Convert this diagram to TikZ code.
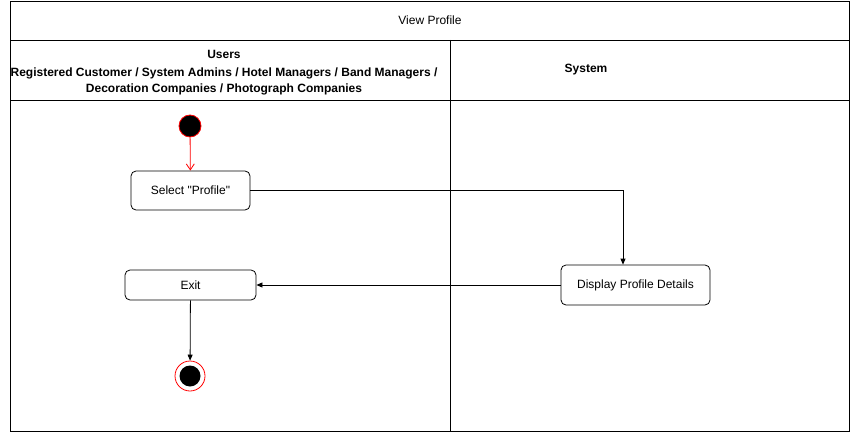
\documentclass[tikz,border=0pt]{standalone}
\usepackage{fontspec}
\setmainfont{Liberation Sans}
\newfontfamily\plainfont{Liberation Sans}
\usetikzlibrary{arrows.meta}
\begin{document}
\begin{tikzpicture}[x=1pt,y=-1pt,
  lane/.style={draw=black, line width=0.8pt},
  act/.style={draw=black, line width=0.8pt, rounded corners=5pt, fill=white, font=\plainfont\fontsize{12}{14}\selectfont, inner sep=0pt},
  flow/.style={draw=black, line width=0.8pt, -{Triangle[length=6pt,width=5pt]}},
  hdr/.style={font=\fontsize{12}{15.5}\selectfont\bfseries, align=center}]
\useasboundingbox (0,0) rectangle (853,433);
\fill[white] (0,0) rectangle (853,433);
% frame
\draw[lane] (10,1) rectangle (849,431);
\draw[lane] (10,40) -- (849,40);
\draw[lane] (10,100) -- (849,100);
\draw[lane] (450,40) -- (450,431);
\node[font=\fontsize{12}{14}\selectfont] (title) at (430,20) {View Profile};
\node[hdr] (users) at (224,72.5) {Users\\[2.5pt]Registered Customer / System Admins / Hotel Managers / Band Managers /\\Decoration Companies / Photograph Companies};
\node[hdr] (system) at (586,70) {System};
% nodes
\node[circle, draw=red, fill=black, line width=0.8pt, minimum size=22pt, inner sep=0pt] (start) at (190,126) {};
\node[act, minimum width=119pt, minimum height=39pt] (sel) at (190.5,190.5) {Select "Profile"};
\node[act, minimum width=149pt, minimum height=40pt] (disp) at (635.5,285) {Display Profile Details};
\node[act, minimum width=131pt, minimum height=30pt] (exit) at (190.5,285) {Exit};
\node[circle, draw=red, fill=white, line width=0.8pt, minimum size=30pt, inner sep=0pt] (end) at (190,376) {};
\node[circle, fill=black, minimum size=21pt, inner sep=0pt] (endin) at (190,376) {};
\coordinate (bend) at (623,190.5);
% edges
\draw[draw=red, line width=0.8pt, -{Straight Barb[length=6pt,width=8pt]}] (start) -- (sel);
\draw[flow] (sel.east) -- (bend) -- (bend |- disp.north);
\draw[flow] (disp.west) -- (exit.east);
\draw[flow] (exit) -- (end);
\end{tikzpicture}
\end{document}
